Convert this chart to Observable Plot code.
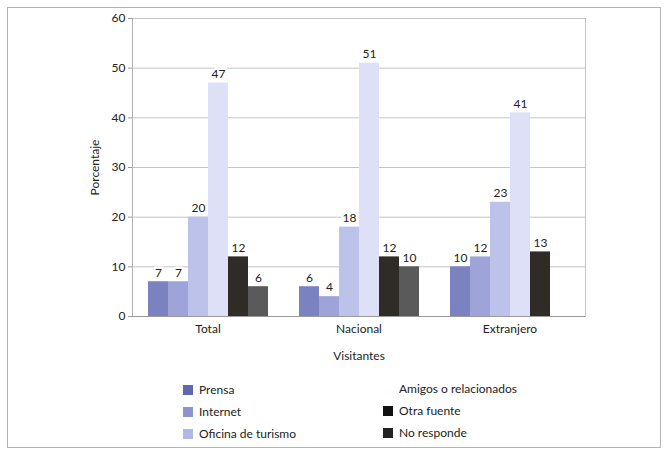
<!DOCTYPE html>
<html>
<head>
<meta charset="utf-8">
<script src="https://cdn.jsdelivr.net/npm/d3@7"></script>
<script src="https://cdn.jsdelivr.net/npm/@observablehq/plot@0.6"></script>
<style>
  body { margin: 0; background: #fff; font-family: Lato, "Open Sans", sans-serif; }
  #wrap { position: relative; width: 668px; height: 450px; overflow: hidden; }
  #border { position: absolute; left: 7px; top: 7px; width: 654px; height: 441px; border: 1px solid #b4b4b4; box-sizing: border-box; }
  #legend { position: absolute; left: 0; top: 0; font-size: 12px; color: #222; }
  .item { position: absolute; display: flex; align-items: center; white-space: nowrap; }
  .sw { width: 10px; height: 10px; margin-right: 6px; }
</style>
</head>
<body>
<div id="wrap">
  <div id="border"></div>
  <div id="chart"></div>
  <div id="legend"></div>
</div>
<script>
const groups = ["Total", "Nacional", "Extranjero"];
const series = ["Prensa", "Internet", "Oficina de turismo", "Amigos o relacionados", "Otra fuente", "No responde"];
const totalValues = [7, 7, 20, 47, 12, 6];
const nacionalValues = [6, 4, 18, 51, 12, 10];
const extranjeroValues = [10, 12, 23, 41, 13, null];
const colors = ["#7a82c0", "#9ea4d8", "#bcc2ea", "#dde0f6", "#2f2b27", "#5a5a5a"];
const legendColors = ["#5f68b0", "#8c93cf", "#b1b8e6", "#ffffff", "#111111", "#222222"];
const yTicks = [0, 10, 20, 30, 40, 50, 60];

const valuesByGroup = [totalValues, nacionalValues, extranjeroValues];
const data = [];
groups.forEach((g, gi) => series.forEach((s, si) => {
  const v = valuesByGroup[gi][si];
  if (v != null) data.push({group: g, series: s, value: v});
}));

const chart = Plot.plot({
  width: 668,
  height: 450,
  marginLeft: 131,
  marginRight: 83,
  marginTop: 18,
  marginBottom: 134,
  style: {fontFamily: "Lato, 'Open Sans', sans-serif", fontSize: "12px", color: "#222", background: "transparent"},
  fx: {domain: groups, padding: 0, label: "Visitantes"},
  x: {domain: series, paddingInner: 0, paddingOuter: 0.69, axis: null},
  y: {domain: [0, 60], label: "Porcentaje"},
  color: {domain: series, range: colors},
  marks: [
    Plot.ruleY(yTicks.filter(d => d > 0), {stroke: "#c4c4c4", strokeWidth: 1}),
    Plot.frame({anchor: "left", facetAnchor: "left", stroke: "#b0b0b0"}),
    Plot.frame({anchor: "right", facetAnchor: "right", stroke: "#c4c4c4"}),
    Plot.barY(data, {fx: "group", x: "series", y: "value", fill: "series"}),
    Plot.ruleY([0], {stroke: "#9a9a9a"}),
    Plot.text(data, {fx: "group", x: "series", y: "value", text: d => String(d.value), dy: -9, fontSize: 12, fill: "#222", stroke: "white", strokeWidth: 5}),
    Plot.axisY({ticks: yTicks, tickSize: 4, tickPadding: 3, stroke: "#999", fontSize: 12, label: "Porcentaje", labelArrow: "none", labelAnchor: "center", labelOffset: 42}),
    Plot.axisFx({anchor: "bottom", tickSize: 0, tickPadding: 8, fontSize: 12, label: "Visitantes", labelArrow: "none", labelAnchor: "center", labelOffset: 43})
  ]
});
document.getElementById("chart").appendChild(chart);

const legend = document.getElementById("legend");
const pos = [
  [183, 390], [183, 412], [183, 434],
  [383, 389], [383, 411], [383, 433]
];
series.forEach((s, i) => {
  const el = document.createElement("div");
  el.className = "item";
  el.style.left = pos[i][0] + "px";
  el.style.top = (pos[i][1] - 8) + "px";
  const sw = document.createElement("div");
  sw.className = "sw";
  sw.style.background = legendColors[i];
  el.appendChild(sw);
  const t = document.createElement("span");
  t.textContent = s;
  el.appendChild(t);
  legend.appendChild(el);
});
</script>
</body>
</html>
